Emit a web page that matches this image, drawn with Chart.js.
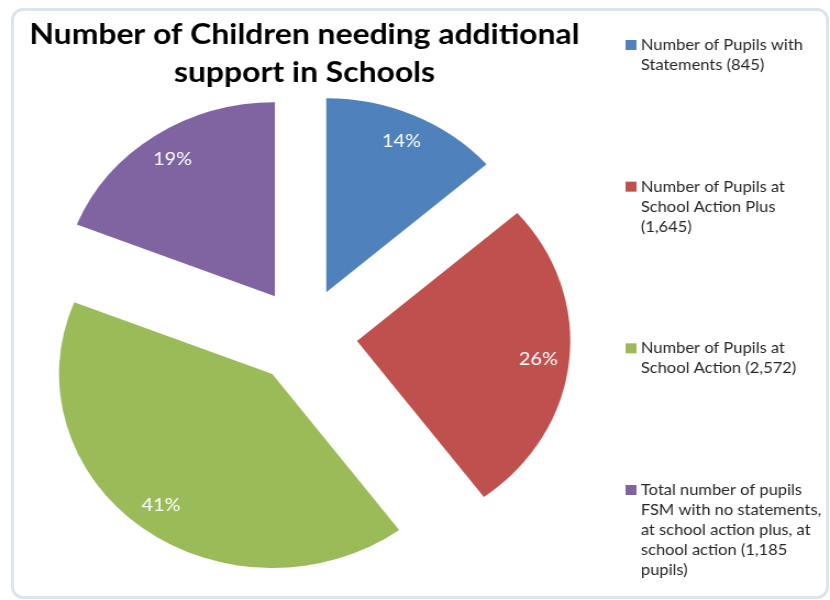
<!DOCTYPE html>
<html>
<head>
<meta charset="utf-8">
<script src="https://cdn.jsdelivr.net/npm/chart.js@4"></script>
<style>
  html, body { margin: 0; padding: 0; background: #fff; }
  #frame { position: absolute; left: 11px; top: 8px; width: 818px; height: 591px; border: 3px solid #dce4ee; border-radius: 12px; box-sizing: border-box; }
  /* the original picture is stretched a little sideways, so the canvas is too */
  #myChart { position: absolute; left: 0; top: 0; transform: scaleX(1.0993); transform-origin: 0 0; }
</style>
</head>
<body>
<div id="frame"></div>
<canvas id="myChart" width="755" height="600"></canvas>
<script>
var titleLines = ['Number of Children needing additional', 'support in Schools'];

var categories = [
    ['Number of Pupils with', 'Statements (845)'],
    ['Number of Pupils at', 'School Action Plus', '(1,645)'],
    ['Number of Pupils at', 'School Action (2,572)'],
    ['Total number of pupils', 'FSM with no statements,', 'at school action plus, at', 'school action (1,185', 'pupils)']
];
var pupils = [845, 1645, 2572, 1185];
var sliceColours = ['#4f81bd', '#c0504d', '#9bbb59', '#8064a2'];

// pull every slice out along its middle angle (a real exploded pie)
var explode = {
    id: 'explode',
    beforeDatasetDraw: function(chart, args, opts) {
        var c = chart.ctx;
        args.meta.data.forEach(function(arc) {
            var mid = (arc.startAngle + arc.endAngle) / 2;
            c.save();
            c.translate(Math.cos(mid) * opts.distance, Math.sin(mid) * opts.distance);
            arc.draw(c);
            c.restore();
        });
        return false;
    }
};

var pctLabels = {
    id: 'pctLabels',
    afterDatasetsDraw: function(chart, args, opts) {
        var c = chart.ctx;
        var vals = chart.data.datasets[0].data;
        var total = vals.reduce(function(a, b) { return a + b; }, 0);
        var gap = chart.options.plugins.explode.distance;
        c.save();
        c.font = opts.font;
        c.fillStyle = opts.color;
        c.textAlign = 'center';
        c.textBaseline = 'middle';
        chart.getDatasetMeta(0).data.forEach(function(arc, i) {
            var mid = (arc.startAngle + arc.endAngle) / 2;
            var r = gap + arc.outerRadius * opts.ratio;
            c.fillText(Math.round(vals[i] / total * 100) + '%', arc.x + Math.cos(mid) * r, arc.y + Math.sin(mid) * r);
        });
        c.restore();
    }
};

// legend on the right, entries spread from top to bottom
var sideLegend = {
    id: 'sideLegend',
    afterDraw: function(chart, args, opts) {
        var c = chart.ctx;
        var labels = chart.data.labels;
        var colours = chart.data.datasets[0].backgroundColor;
        var lh = opts.lineHeight;
        var used = labels.reduce(function(s, l) { return s + l.length * lh; }, 0);
        var space = (opts.bottom - opts.top - used) / (labels.length - 1);
        var y = opts.top;
        c.save();
        c.font = opts.font;
        c.textBaseline = 'middle';
        c.textAlign = 'left';
        labels.forEach(function(lines, i) {
            c.fillStyle = colours[i];
            c.fillRect(opts.x, y + (lh - opts.box) / 2, opts.box, opts.box);
            c.fillStyle = opts.color;
            lines.forEach(function(t, j) {
                c.fillText(t, opts.x + opts.box + 4, y + j * lh + lh / 2);
            });
            y += lines.length * lh + space;
        });
        c.restore();
    }
};

var ctx = document.getElementById('myChart').getContext('2d');
var myChart = new Chart(ctx, {
    type: 'pie',
    data: {
        labels: categories,
        datasets: [{
            data: pupils,
            backgroundColor: sliceColours,
            borderWidth: 0,
            radius: 194
        }]
    },
    options: {
        responsive: false,
        animation: false,
        events: [],
        layout: {
            padding: { left: 0, right: 201, top: 0, bottom: 20 }
        },
        plugins: {
            legend: { display: false },
            tooltip: { enabled: false },
            title: {
                display: true,
                text: titleLines,
                color: '#000',
                font: { family: 'Lato', size: 29, weight: 'bold', lineHeight: 1.31 },
                padding: { top: 16, bottom: 0 }
            },
            explode: { distance: 48 },
            pctLabels: { font: '18px Lato', color: '#fff', ratio: 0.855 },
            sideLegend: {
                x: 569, top: 35, bottom: 580, box: 10, lineHeight: 20,
                font: '15px Lato', color: '#262626'
            }
        }
    },
    plugins: [explode, pctLabels, sideLegend]
});
</script>
</body>
</html>
